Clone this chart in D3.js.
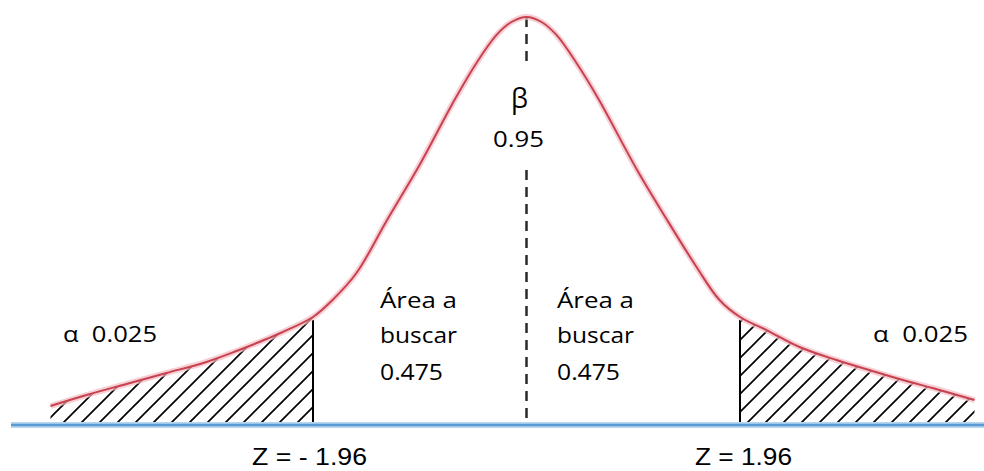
<!DOCTYPE html>
<html lang="es">
<head>
<meta charset="UTF-8">
<title>Distribución normal</title>
<script src="https://cdn.jsdelivr.net/npm/d3@7"></script>
<style>
  body { margin: 0; background: #fff; }
  text { font-family: "Open Sans", sans-serif; fill: #000; white-space: pre; }
  text.z { font-family: "Liberation Sans", Arial, sans-serif; }
</style>
</head>
<body>
<div id="chart"></div>
<script>
var width = 984, height = 471;

// curve: z and height (density units)
var curveZ = [-4.370, -4.039, -3.672, -3.305, -2.938, -2.662, -2.387, -2.258, -1.96, -1.781, -1.561, -1.285, -0.982,
              -0.661, -0.459, -0.275, -0.138, 0,
              0.138, 0.275, 0.459, 0.661, 1.010, 1.285, 1.561, 1.772, 1.96, 2.203, 2.506, 2.846, 3.176, 3.488, 3.727, 4.113];
var curveY = [0.0186, 0.0294, 0.0402, 0.0510, 0.0618, 0.0725, 0.0843, 0.0902, 0.1059, 0.1225, 0.1490, 0.2000, 0.2549,
              0.3186, 0.3549, 0.3824, 0.3951, 0.4000,
              0.3951, 0.3824, 0.3549, 0.3196, 0.2510, 0.2020, 0.1549, 0.1225, 0.1059, 0.0931, 0.0765, 0.0637, 0.0529, 0.0431, 0.0363, 0.0245];
var cuts = [-1.96, 1.96];
var cutLabels = ["Z = - 1.96", "Z = 1.96"];
var alphaLabel = "α  0.025";
var betaLabel = ["β", "0.95"];
var areaLabel = ["Área a", "buscar", "0.475"];

var points = curveZ.map(function(z, i) { return {z: z, y: curveY[i]}; });

var x = d3.scaleLinear().domain([-1.96, 1.96]).range([313, 740]);
var y = d3.scaleLinear().domain([0, 0.4]).range([425, 17]);

var svg = d3.select("#chart").append("svg")
    .attr("width", width)
    .attr("height", height);

// hatch pattern
var defs = svg.append("defs");
defs.append("pattern")
    .attr("id", "hatch")
    .attr("patternUnits", "userSpaceOnUse")
    .attr("width", 18).attr("height", 18)
  .append("path")
    .attr("d", "M0,18 L18,0 M-4,4 L4,-4 M14,22 L22,14")
    .attr("stroke", "#000")
    .attr("stroke-width", 1.7);

var area = d3.area()
    .x(function(d) { return x(d.z); })
    .y0(y(0))
    .y1(function(d) { return y(d.y); })
    .curve(d3.curveCatmullRom.alpha(0.5));

var line = d3.line()
    .x(function(d) { return x(d.z); })
    .y(function(d) { return y(d.y); })
    .curve(d3.curveCatmullRom.alpha(0.5));

// tails
svg.append("path")
    .datum(points.filter(function(d) { return d.z <= cuts[0]; }))
    .attr("d", area)
    .attr("fill", "url(#hatch)");
svg.append("path")
    .datum(points.filter(function(d) { return d.z >= cuts[1]; }))
    .attr("d", area)
    .attr("fill", "url(#hatch)");

// cut lines
cuts.forEach(function(c) {
    var h = curveY[curveZ.indexOf(c)];
    svg.append("line")
        .attr("x1", x(c)).attr("x2", x(c))
        .attr("y1", y(h) + 3).attr("y2", y(0))
        .attr("stroke", "#000")
        .attr("stroke-width", 2);
});

// dashed mean line
svg.append("line")
    .attr("x1", x(0)).attr("x2", x(0))
    .attr("y1", y(0.4)).attr("y2", y(0))
    .attr("stroke", "#2a2a2a")
    .attr("stroke-width", 2.5)
    .attr("stroke-dasharray", "10,7");

// white box behind beta
svg.append("rect")
    .attr("x", 472).attr("y", 65)
    .attr("width", 115).attr("height", 103)
    .attr("fill", "#fff");

// curve
svg.append("path").datum(points)
    .attr("d", line)
    .attr("fill", "none")
    .attr("stroke", "#f3bcc4")
    .attr("stroke-width", 6)
    .attr("stroke-opacity", 0.7);
svg.append("path").datum(points)
    .attr("d", line)
    .attr("fill", "none")
    .attr("stroke", "#c8414f")
    .attr("stroke-width", 2);

// baseline
svg.append("line")
    .attr("x1", 11).attr("x2", width)
    .attr("y1", y(0)).attr("y2", y(0))
    .attr("stroke", "#b9d6ef")
    .attr("stroke-width", 6);
svg.append("line")
    .attr("x1", 11).attr("x2", width)
    .attr("y1", y(0)).attr("y2", y(0))
    .attr("stroke", "#5b9bd5")
    .attr("stroke-width", 2.5);

function label(tx, ty, str, size, len, cls) {
    var t = svg.append("text")
        .attr("x", tx).attr("y", ty)
        .attr("font-size", size)
        .attr("textLength", len)
        .attr("lengthAdjust", "spacingAndGlyphs")
        .text(str);
    if (cls) t.attr("class", cls);
    return t;
}

label(63, 342, alphaLabel, 22, 94);
label(873, 342, alphaLabel, 22, 95);

label(511, 108, betaLabel[0], 27, 17);
label(493, 147, betaLabel[1], 22, 51);

[380, 557].forEach(function(lx) {
    label(lx, 308, areaLabel[0], 21, 77);
    label(lx, 343, areaLabel[1], 21, 77);
    label(lx, 380, areaLabel[2], 21, 63);
});

label(252, 465, cutLabels[0], 23, 115, "z");
label(695, 465, cutLabels[1], 23, 97, "z");
</script>
</body>
</html>
